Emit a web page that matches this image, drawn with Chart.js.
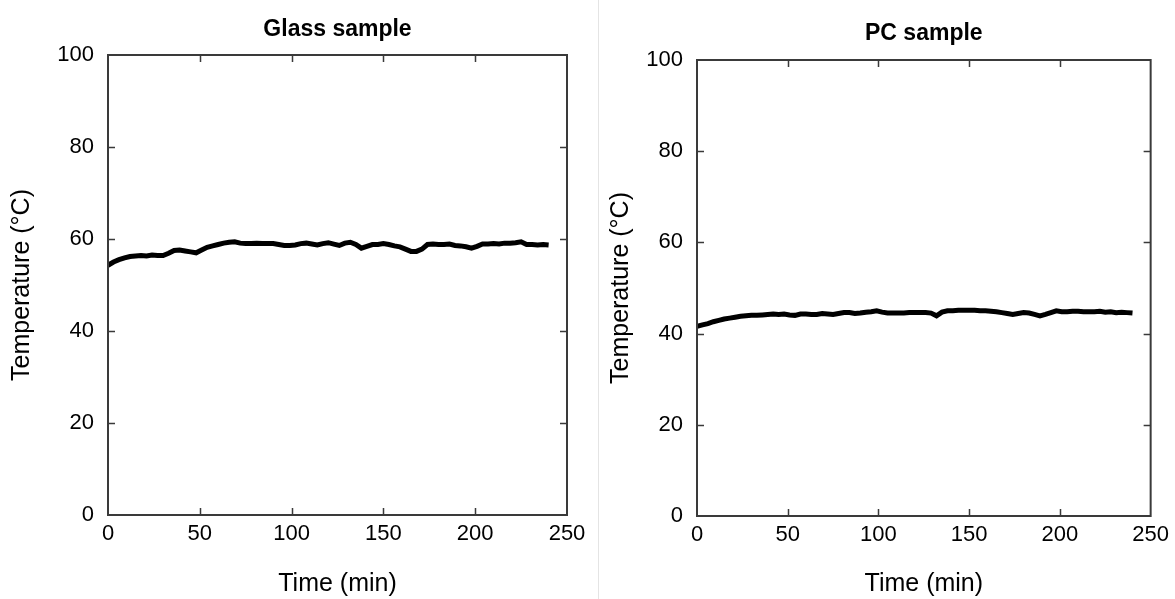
<!DOCTYPE html>
<html>
<head>
<meta charset="utf-8">
<script src="https://cdn.jsdelivr.net/npm/chart.js@4"></script>
<style>
    html, body { margin: 0; padding: 0; background: #fff; }
    #wrap { position: relative; width: 1175px; height: 599px; overflow: hidden; }
    #glassChart { position: absolute; left: 0; top: 0; }
    #pcChart { position: absolute; left: 599px; top: 0; }
    #divider { position: absolute; left: 598px; top: 0; width: 1px; height: 599px; background: #e4e4e4; }
</style>
</head>
<body>
<div id="wrap">
    <canvas id="glassChart" width="598" height="599"></canvas>
    <div id="divider"></div>
    <canvas id="pcChart" width="576" height="599"></canvas>
</div>
<script>
// sample times (min)
const times = [0, 3, 6, 9, 12, 15, 18, 21, 24, 27, 30, 33, 36, 39, 42, 45, 48, 51, 54, 57,
    60, 63, 66, 69, 72, 75, 78, 81, 84, 87, 90, 93, 96, 99, 102, 105, 108, 111, 114, 117,
    120, 123, 126, 129, 132, 135, 138, 141, 144, 147, 150, 153, 156, 159, 162, 165, 168, 171, 174, 177,
    180, 183, 186, 189, 192, 195, 198, 201, 204, 207, 210, 213, 216, 219, 222, 225, 228, 231, 234, 237, 240];

// glass sample temperature (C)
const glassTemp = [54.3, 55.0, 55.5, 55.9, 56.2, 56.3, 56.4, 56.3, 56.5, 56.4, 56.4, 56.9, 57.5, 57.6, 57.4, 57.2, 57.0, 57.6, 58.2, 58.5,
    58.8, 59.1, 59.3, 59.4, 59.1, 59.0, 59.0, 59.1, 59.0, 59.0, 59.0, 58.8, 58.6, 58.6, 58.7, 59.0, 59.1, 58.9, 58.7, 59.0,
    59.2, 58.9, 58.6, 59.1, 59.3, 58.8, 58.0, 58.4, 58.8, 58.8, 59.0, 58.8, 58.5, 58.3, 57.8, 57.3, 57.3, 57.8, 58.8, 58.9,
    58.8, 58.8, 58.9, 58.6, 58.5, 58.3, 58.0, 58.4, 58.9, 58.9, 59.0, 58.9, 59.1, 59.1, 59.2, 59.4, 58.8, 58.8, 58.7, 58.8, 58.7];

// PC sample temperature (C)
const pcTemp = [41.6, 41.9, 42.2, 42.6, 42.9, 43.2, 43.4, 43.6, 43.8, 43.9, 44.0, 44.0, 44.1, 44.2, 44.3, 44.2, 44.3, 44.1, 44.0, 44.3,
    44.3, 44.2, 44.2, 44.4, 44.3, 44.2, 44.4, 44.6, 44.6, 44.4, 44.5, 44.7, 44.8, 45.0, 44.7, 44.5, 44.5, 44.5, 44.5, 44.6,
    44.6, 44.6, 44.6, 44.5, 43.9, 44.7, 45.0, 45.0, 45.1, 45.1, 45.1, 45.1, 45.0, 45.0, 44.9, 44.8, 44.6, 44.4, 44.2, 44.4,
    44.6, 44.5, 44.2, 43.9, 44.2, 44.6, 45.0, 44.8, 44.8, 44.9, 44.9, 44.8, 44.8, 44.8, 44.9, 44.7, 44.8, 44.6, 44.7, 44.6, 44.5];

const xTicks = [0, 50, 100, 150, 200, 250];
const yTicks = [0, 20, 40, 60, 80, 100];

const FONT = 'Arial, "Liberation Sans", sans-serif';
const AXIS_COLOR = '#3a3a3a';

// frame + inward ticks on all four sides, plus the panel title
const framePlugin = {
    id: 'frame',
    afterDraw(chart, args, opts) {
        const ctx = chart.ctx;
        const a = chart.chartArea;
        const xs = chart.scales.x;
        const ys = chart.scales.y;
        const len = 7;
        ctx.save();
        ctx.strokeStyle = AXIS_COLOR;
        ctx.lineWidth = 2;
        ctx.strokeRect(a.left, a.top, a.right - a.left, a.bottom - a.top);
        ctx.lineWidth = 1.5;
        ctx.beginPath();
        xTicks.slice(1, -1).forEach(v => {
            const px = Math.round(xs.getPixelForValue(v)) + 0.5;
            ctx.moveTo(px, a.bottom); ctx.lineTo(px, a.bottom - len);
            ctx.moveTo(px, a.top); ctx.lineTo(px, a.top + len);
        });
        yTicks.slice(1, -1).forEach(v => {
            const py = Math.round(ys.getPixelForValue(v)) + 0.5;
            ctx.moveTo(a.left, py); ctx.lineTo(a.left + len, py);
            ctx.moveTo(a.right, py); ctx.lineTo(a.right - len, py);
        });
        ctx.stroke();

        ctx.fillStyle = '#000';
        ctx.font = 'bold 23px ' + FONT;
        ctx.textAlign = 'center';
        ctx.textBaseline = 'alphabetic';
        ctx.fillText(opts.text, (a.left + a.right) / 2, opts.baseline);
        ctx.restore();
    }
};

function makePanel(canvasId, title, values, box) {
    const ctx = document.getElementById(canvasId);
    const points = times.map((t, i) => ({ x: t, y: values[i] }));
    return new Chart(ctx, {
        type: 'line',
        data: {
            datasets: [{
                data: points,
                borderColor: '#000',
                borderWidth: 5,
                pointRadius: 0,
                tension: 0,
                fill: false
            }]
        },
        options: {
            responsive: false,
            animation: false,
            devicePixelRatio: 1,
            layout: { padding: { top: box.top, right: box.right, left: 0, bottom: 0 } },
            plugins: {
                legend: { display: false },
                tooltip: { enabled: false },
                frame: { text: title, baseline: box.titleBase }
            },
            scales: {
                x: {
                    type: 'linear',
                    min: 0, max: 250,
                    afterBuildTicks: s => { s.ticks = xTicks.map(v => ({ value: v })); },
                    afterFit: s => { s.height = box.xHeight; },
                    grid: { display: false, drawTicks: false },
                    border: { display: false },
                    ticks: { color: '#000', padding: 6, font: { family: FONT, size: 22 } },
                    title: {
                        display: true, text: 'Time (min)', color: '#000',
                        font: { family: FONT, size: 25 }, padding: { top: 5, bottom: 0 }
                    }
                },
                y: {
                    type: 'linear',
                    min: 0, max: 100,
                    afterBuildTicks: s => { s.ticks = yTicks.map(v => ({ value: v })); },
                    afterFit: s => { s.width = box.yWidth; },
                    grid: { display: false, drawTicks: false },
                    border: { display: false },
                    ticks: { color: '#000', padding: 14, font: { family: FONT, size: 22 } },
                    title: {
                        display: true, text: 'Temperature (°C)', color: '#000',
                        font: { family: FONT, size: 25 }, padding: { top: 7, bottom: 0 }
                    }
                }
            }
        },
        plugins: [framePlugin]
    });
}

makePanel('glassChart', 'Glass sample', glassTemp,
    { top: 55, right: 31, yWidth: 108, xHeight: 84, titleBase: 36 });
makePanel('pcChart', 'PC sample', pcTemp,
    { top: 60, right: 23, yWidth: 98, xHeight: 83, titleBase: 40 });
</script>
</body>
</html>
